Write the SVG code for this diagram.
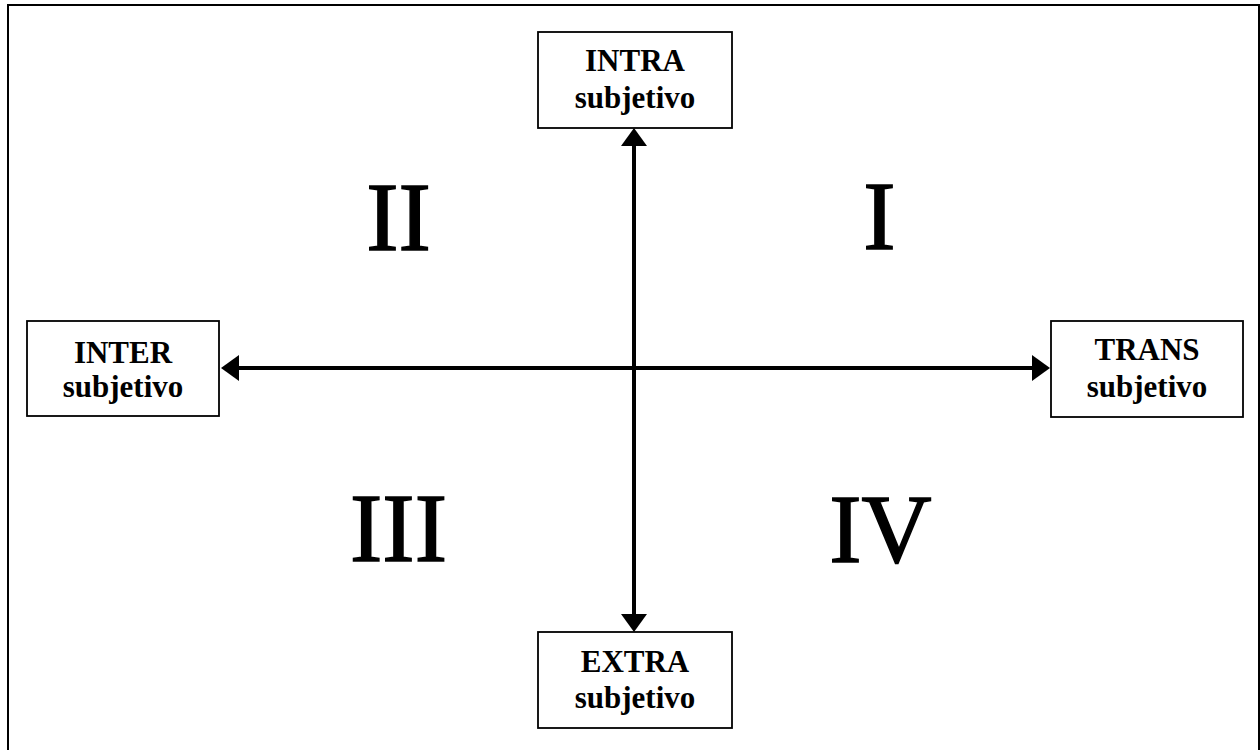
<svg xmlns="http://www.w3.org/2000/svg" width="1260" height="750" viewBox="0 0 1260 750">
  <style>
    .frame { fill: none; stroke: #000; stroke-width: 2; }
    .box { fill: #fff; stroke: #000; stroke-width: 1.8; }
    .lbl { font-family: "Liberation Serif", "Times New Roman", serif; font-weight: bold; font-size: 31px; text-anchor: middle; fill: #000; }
    .num { font-family: "Liberation Serif", "Times New Roman", serif; font-size: 97px; text-anchor: middle; fill: #000; stroke: #000; stroke-width: 1.5; }
    .axis { stroke: #000; stroke-width: 4; fill: none; marker-start: url(#head); marker-end: url(#head); }
  </style>
  <defs>
    <marker id="head" markerUnits="userSpaceOnUse" markerWidth="18" markerHeight="26" viewBox="0 0 18 26" refX="0" refY="13" orient="auto-start-reverse">
      <path d="M0,0 L18,13 L0,26 z" fill="#000"/>
    </marker>
  </defs>

  <rect width="1260" height="750" fill="#fff"/>
  <!-- outer frame (bottom edge runs past the canvas) -->
  <path class="frame" d="M8,760 L8,5 L1259,5 L1259,760"/>

  <!-- quadrant numerals -->
  <g id="quadrants">
    <text class="num" x="398.5" y="250">II</text>
    <text class="num" x="879.5" y="249">I</text>
    <text class="num" x="398.5" y="561">III</text>
    <text class="num" x="880.5" y="562">IV</text>
  </g>

  <!-- axes -->
  <g id="connectors">
    <line class="axis" x1="634" y1="146" x2="634" y2="614"/>
    <line class="axis" x1="239" y1="368" x2="1032" y2="368"/>
  </g>

  <g id="intra">
    <rect class="box" x="538" y="32" width="194" height="96"/>
    <text class="lbl" x="635" y="71">INTRA</text>
    <text class="lbl" x="635" y="108">subjetivo</text>
  </g>

  <g id="inter">
    <rect class="box" x="27" y="321" width="192" height="95"/>
    <text class="lbl" x="123" y="363">INTER</text>
    <text class="lbl" x="123" y="397">subjetivo</text>
  </g>

  <g id="trans">
    <rect class="box" x="1051" y="321" width="192" height="96"/>
    <text class="lbl" x="1147" y="360">TRANS</text>
    <text class="lbl" x="1147" y="397">subjetivo</text>
  </g>

  <g id="extra">
    <rect class="box" x="538" y="632" width="194" height="96"/>
    <text class="lbl" x="635" y="672">EXTRA</text>
    <text class="lbl" x="635" y="708">subjetivo</text>
  </g>
</svg>
